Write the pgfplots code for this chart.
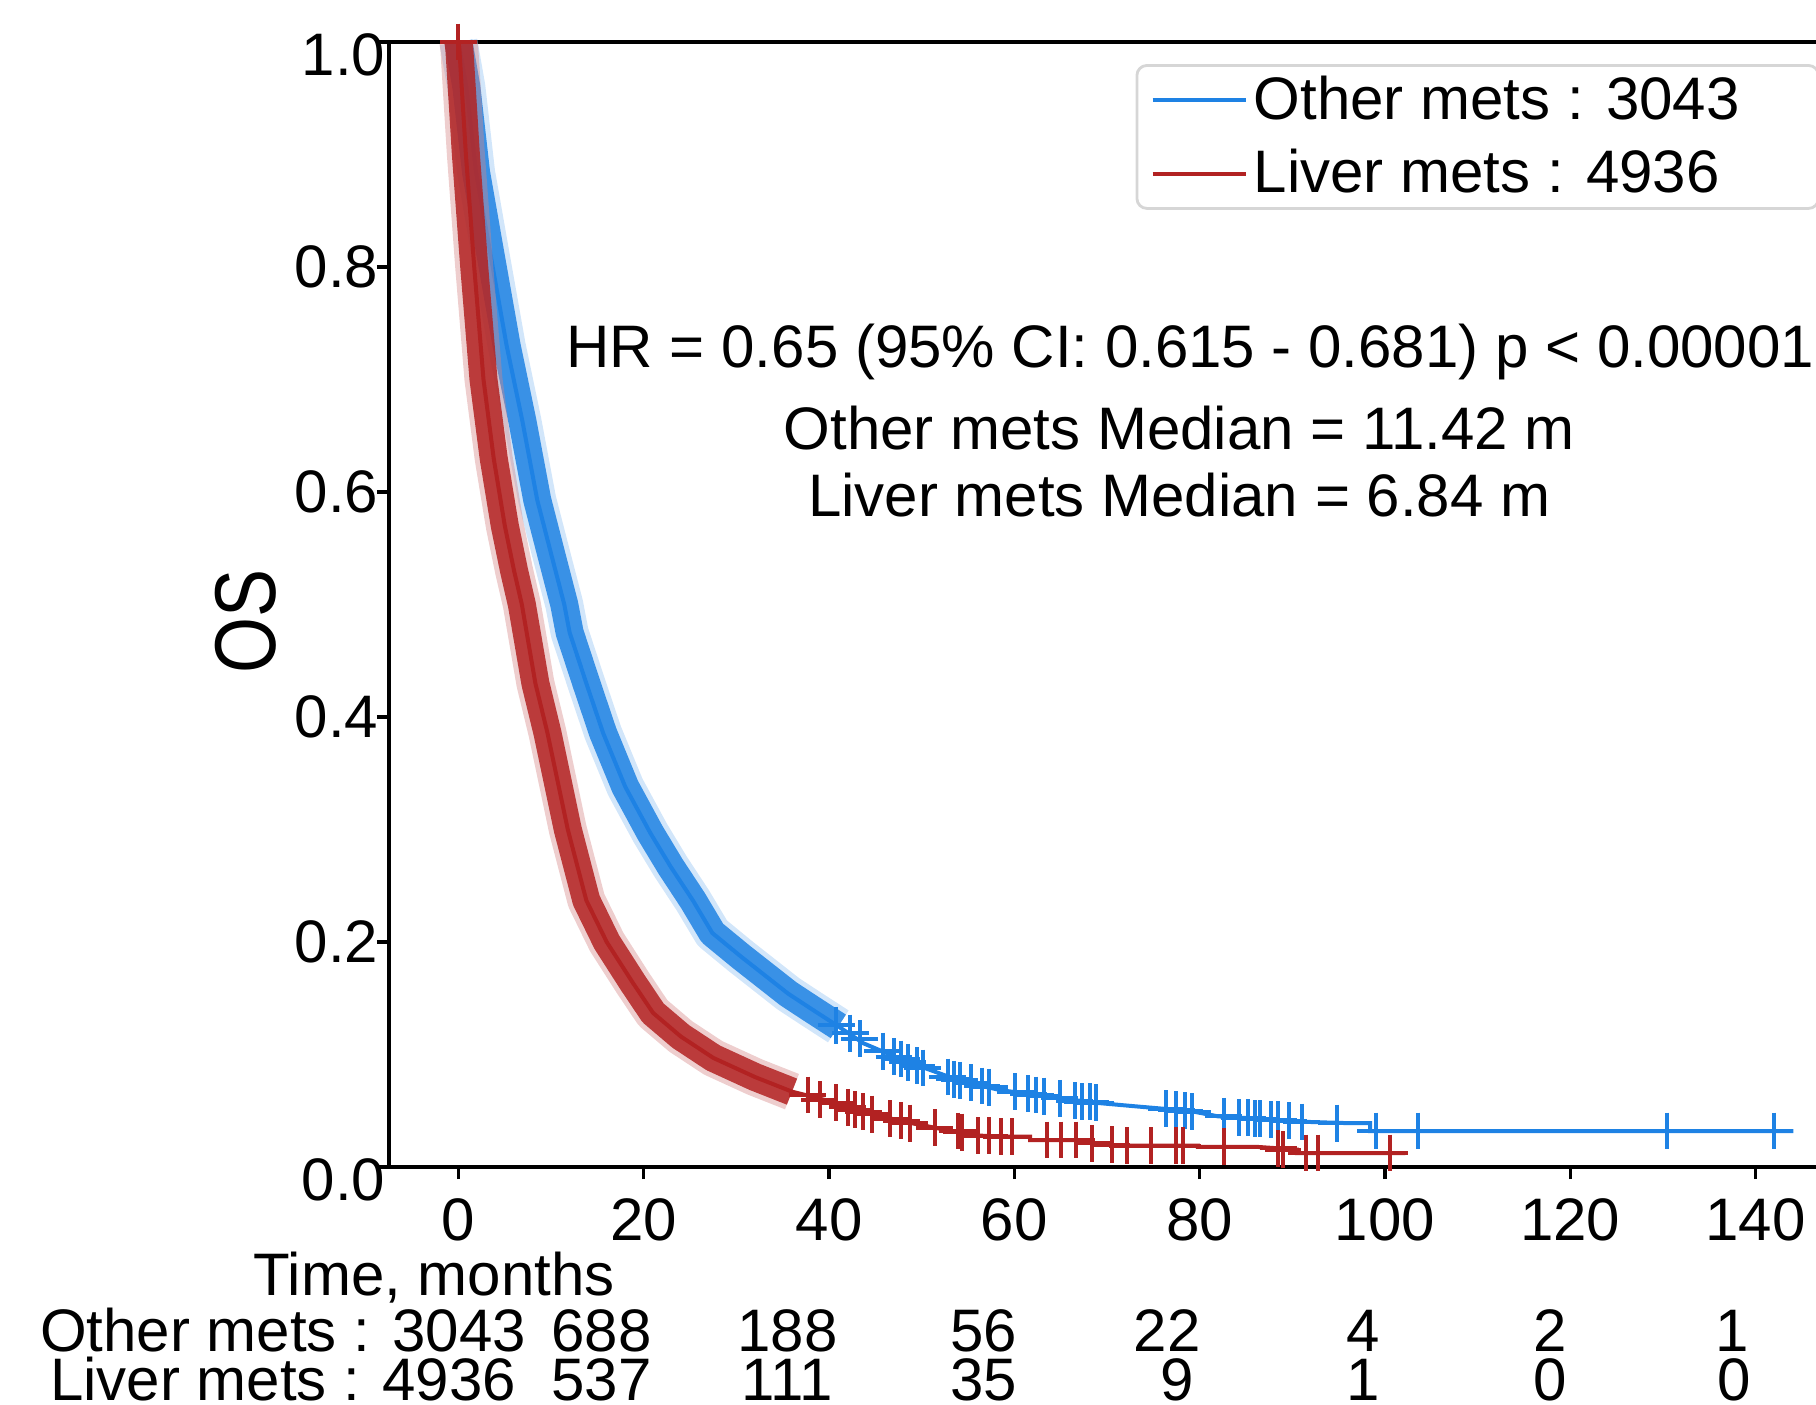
\documentclass[border=0pt]{standalone}
\usepackage{fontspec}
\setmainfont{Liberation Sans}
\usepackage{graphicx}
\usepackage{pgfplots}
\usepackage{pgfplotstable}
\pgfplotsset{compat=1.18}

\definecolor{kmBlue}{HTML}{1E82E4}
\definecolor{kmRed}{HTML}{B22222}
\newcommand{\kmfont}{\fontsize{15pt}{17pt}\selectfont}

% Kaplan-Meier curves (months, survival)
\pgfplotstableread{
t s
0 1.0
0.85 0.96
1.9 0.884
3.35 0.816
5.2 0.73
6.9 0.663
8.5 0.593
10.0 0.545
11.42 0.50
12.0 0.475
13.8 0.43
15.6 0.386
18.0 0.338
20.7 0.297
22.9 0.267
25.3 0.237
27.4 0.208
30.5 0.187
35.6 0.154
38.0 0.141
41.0 0.125
43.7 0.11
48.0 0.095
53.0 0.08
56.5 0.072
58.7 0.068
60.7 0.066
65.0 0.061
68.9 0.057
73.0 0.054
77.2 0.051
79.5 0.049
82.0 0.045
88.2 0.042
92.0 0.040
96.0 0.039
98.4 0.039
98.4 0.032
144.1 0.032
}\otherMets

\pgfplotstableread{
t s
0 1.0
0.1 0.993
0.8 0.90
1.7 0.80
2.7 0.70
3.8 0.63
5.0 0.57
6.0 0.53
6.84 0.50
8.3 0.43
9.6 0.386
11.8 0.30
13.8 0.237
16.0 0.20
18.8 0.164
21.0 0.137
24.0 0.116
27.5 0.097
32.0 0.080
36.0 0.067
40.8 0.057
44.5 0.047
48.9 0.039
52.0 0.034
56.1 0.028
58.4 0.027
61.7 0.027
61.7 0.024
66.8 0.024
68.5 0.021
70.5 0.020
70.5 0.019
79.8 0.019
79.8 0.018
86.0 0.018
88.7 0.0165
88.7 0.0155
90.5 0.0155
90.5 0.0124
102.2 0.0124
}\liverMets

% censoring marks where they stand apart
\pgfplotstableread{
t s
40.8 0.126
42.3 0.119
43.3 0.114
45.8 0.103
47.0 0.098
47.8 0.096
48.5 0.093
49.5 0.090
50.1 0.088
52.8 0.080
53.5 0.078
54.1 0.077
55.3 0.075
56.5 0.072
57.3 0.071
60.1 0.067
61.5 0.065
62.3 0.064
63.2 0.063
64.9 0.061
66.5 0.059
67.3 0.058
68.2 0.058
68.8 0.057
76.4 0.052
77.5 0.051
78.4 0.050
79.2 0.049
82.6 0.045
84.3 0.044
85.2 0.044
86.0 0.043
86.5 0.043
87.7 0.042
88.5 0.042
89.6 0.041
91.0 0.040
94.8 0.039
99.0 0.032
103.6 0.032
130.4 0.032
142.0 0.032
}\otherCens

\pgfplotstableread{
t s
0 1.0
37.7 0.064
39.0 0.060
40.8 0.057
42.0 0.053
42.8 0.051
43.7 0.049
44.6 0.047
46.6 0.043
47.8 0.041
48.7 0.039
51.4 0.035
53.9 0.032
54.3 0.031
56.1 0.028
57.3 0.028
58.6 0.027
59.8 0.027
63.5 0.024
65.0 0.024
66.7 0.024
68.4 0.021
70.5 0.020
72.2 0.019
74.7 0.019
77.5 0.019
78.2 0.019
82.6 0.018
88.5 0.0165
89.0 0.0155
91.5 0.0124
92.8 0.0124
100.5 0.0124
}\liverCens

\pgfplotsset{
  kmband/.style={forget plot, line cap=butt, line join=round, line width=7pt, opacity=0.85},
  kmfringe/.style={forget plot, line cap=butt, line join=round, line width=9.5pt, opacity=0.4},
  kmline/.style={line width=1pt},
  kmcens/.style={forget plot, only marks, mark=+, mark size=4.6pt, mark options={line width=1pt}},
}

\begin{document}
\begin{tikzpicture}
\begin{axis}[
    scale only axis, width=364.78pt, height=281.25pt,
    xmin=-7.5, xmax=150, ymin=0, ymax=1,
    clip=false,
    axis line style={line width=0.8pt},
    tick style={line width=0.8pt, black},
    tick align=outside, major tick length=3pt, tick pos=left,
    xtick={0,20,...,140}, ytick={0.2,0.4,0.6,0.8},
    extra y ticks={0,1},
    extra y tick style={yticklabel style={xshift=1.75pt, yshift=-3.25pt}},
    tick label style={font=\kmfont},
    /pgf/number format/assume math mode=true,
    yticklabel style={/pgf/number format/fixed, /pgf/number format/fixed zerofill,
      /pgf/number format/precision=1, inner sep=0pt, xshift=0.5pt},
    xticklabel style={inner sep=0pt, yshift=-4.75pt},
    legend style={at={(axis cs:73.08,0.9804)}, anchor=north west,
      draw=black!16, line width=0.7pt, rounded corners=2.5pt, fill=white,
      inner xsep=3.5pt, inner ysep=2.4pt, row sep=5.95pt, column sep=1.6pt,
      font=\kmfont, nodes={inner sep=0pt}},
    legend cell align=left,
    legend image code/.code={\draw[#1, line width=0.9pt] (0pt,0pt) -- (23.2pt,0pt);},
  ]
  % Other mets
  \addplot[kmfringe, color=kmBlue!50, restrict x to domain=0:42] table[x=t, y=s] {\otherMets};
  \addplot[kmband, color=kmBlue, restrict x to domain=0:42] table[x=t, y=s] {\otherMets};
  \addplot[kmline, color=kmBlue] table[x=t, y=s] {\otherMets};
  \addlegendentry{\rule{0pt}{11pt}\makebox[137.7pt][l]{Other mets : 3043}}
  \addplot[kmcens, color=kmBlue] table[x=t, y=s] {\otherCens};
  % Liver mets
  \addplot[kmfringe, color=kmRed!55, restrict x to domain=0:37] table[x=t, y=s] {\liverMets};
  \addplot[kmband, color=kmRed, restrict x to domain=0:37] table[x=t, y=s] {\liverMets};
  \addplot[kmline, color=kmRed] table[x=t, y=s] {\liverMets};
  \addlegendentry{\rule{0pt}{11pt}\makebox[137.7pt][l]{Liver mets : 4936}}
  \addplot[kmcens, color=kmRed] table[x=t, y=s] {\liverCens};

  % test statistics
  \node[anchor=base, font=\kmfont] at (axis cs:79.0,0.7111) {HR = 0.65 (95\% CI: 0.615 - 0.681) p < 0.00001};
  \node[anchor=base, font=\kmfont] at (axis cs:77.8,0.6382) {Other mets Median = 11.42 m};
  \node[anchor=base, font=\kmfont] at (axis cs:77.8,0.5778) {Liver mets Median = 6.84 m};

  % axis label and numbers at risk
  \node[rotate=90] at ([xshift=-35.75pt]rel axis cs:0,0.4853)
    {\fontsize{18pt}{20pt}\selectfont\scalebox{1}[1.2]{OS}};
  \node[anchor=base, font=\kmfont] at (axis cs:-2.64,-0.1138) {Time, months};
  \node[anchor=base, font=\kmfont] at (axis cs:-18.94,-0.1644) {Other mets : 3043};
  \node[anchor=base, font=\kmfont] at (axis cs:-18.94,-0.2071) {Liver mets : 4936};
  \node[anchor=base, font=\kmfont] at (axis cs:15.44,-0.1644) {688};
  \node[anchor=base, font=\kmfont] at (axis cs:15.44,-0.2071) {537};
  \node[anchor=base, font=\kmfont] at (axis cs:35.5,-0.1644) {188};
  \node[anchor=base, font=\kmfont] at (axis cs:35.5,-0.2071) {111};
  \node[anchor=base, font=\kmfont] at (axis cs:56.67,-0.1644) {56};
  \node[anchor=base, font=\kmfont] at (axis cs:56.67,-0.2071) {35};
  \node[anchor=base, font=\kmfont] at (axis cs:76.5,-0.1644) {22};
  \node[anchor=base, font=\kmfont] at (axis cs:77.6,-0.2071) {9};
  \node[anchor=base, font=\kmfont] at (axis cs:97.7,-0.1644) {4};
  \node[anchor=base, font=\kmfont] at (axis cs:97.7,-0.2071) {1};
  \node[anchor=base, font=\kmfont] at (axis cs:117.8,-0.1644) {2};
  \node[anchor=base, font=\kmfont] at (axis cs:117.8,-0.2071) {0};
  \node[anchor=base, font=\kmfont] at (axis cs:137.5,-0.1644) {1};
  \node[anchor=base, font=\kmfont] at (axis cs:137.7,-0.2071) {0};
\end{axis}
\pgfresetboundingbox
\path[use as bounding box] (-97.25pt,-59.25pt) rectangle (356.75pt,291.75pt);
\end{tikzpicture}
\end{document}
